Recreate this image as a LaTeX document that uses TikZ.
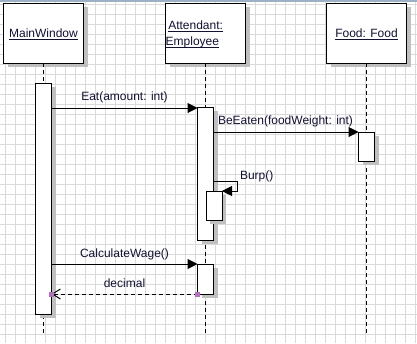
\documentclass[tikz,border=0pt]{standalone}
\usepackage{fontspec}
\setmainfont{Liberation Sans}
\newcommand{\myul}[1]{\setbox0\hbox{#1}\rlap{\vrule height -1.7pt depth 2.7pt width \wd0}\box0}
\usetikzlibrary{arrows.meta,shadows}
\definecolor{gridc}{RGB}{218,218,218}
\definecolor{shc}{RGB}{192,192,192}
\definecolor{txt}{RGB}{16,16,48}
\definecolor{handlec}{RGB}{180,110,190}
\definecolor{topbarc}{RGB}{160,176,196}
\begin{document}
\begin{tikzpicture}[x=1pt,y=-1pt,
  font=\fontsize{12}{14}\selectfont,
  every node/.style={text=txt, inner sep=0pt, outer sep=0pt},
  gridline/.style={draw=gridc, line width=1.2pt},
  shad/.style={drop shadow={shadow xshift=4pt, shadow yshift=-4pt, fill=shc, opacity=1}},
  objbox/.style={shad, draw=black, line width=1pt, fill=white, minimum width=80pt, minimum height=60pt},
  actbox/.style={shad, draw=black, line width=1pt, fill=white, minimum width=16pt},
  lifeline/.style={draw=black, line width=1pt, dash pattern=on 4pt off 3pt},
  msg/.style={draw=black, line width=1pt, -{Triangle[length=10pt,width=10pt]}},
  ret/.style={draw=black, line width=1pt, dash pattern=on 4pt off 3pt, -{Straight Barb[length=8pt,width=10pt]}},
  handle/.style={fill=handlec, minimum size=5pt},
  title/.style={anchor=base},
  lbl/.style={anchor=base}
]
\useasboundingbox (0,0) rectangle (417,343);
\fill[white] (0,0) rectangle (417,343);
% grid
\foreach \gx in {5.5,15.5,...,415.5} \draw[gridline] (\gx,0) -- (\gx,343);
\foreach \gy in {4.5,14.5,...,340} \draw[gridline] (0,\gy) -- (417,\gy);
\draw[draw=topbarc, line width=1.5pt] (0,0.75) -- (417,0.75);

% lifeline ends
\coordinate (mwend) at (43.5,333);
\coordinate (attend) at (205.5,333);
\coordinate (foodend) at (366.5,333);

% objects
\node[objbox] (mw) at (43.5,33) {};
\node[objbox] (att) at (205.5,33) {};
\node[objbox] (food) at (366.5,33) {};

\draw[lifeline] (mw.south) -- (mwend);
\draw[lifeline] (att.south) -- (attend);
\draw[lifeline] (food.south) -- (foodend);

\node[title] (mwt) at (43.5,37.3) {\myul{MainWindow}};
\node[title, anchor=base west] (att1) at (168.3,29.3) {\myul{Attendant:}};
\node[title, anchor=base west] (att2) at (165.7,45.7) {\myul{Employee}};
\node[title] (foodt) at (366.5,37.3) {\myul{Food: Food}};

% activations
\node[actbox, minimum height=231pt] (a1) at (43.5,198.5) {};
\node[actbox, minimum height=133pt] (b1) at (205.5,173.5) {};
\node[actbox, minimum height=29pt] (b2) at (214,205.5) {};
\node[actbox, minimum height=30pt] (b3) at (205.5,279) {};
\node[actbox, minimum height=29pt] (c1) at (366.5,146.5) {};

% message rows
\coordinate (yEat) at (0,108);
\coordinate (yBe) at (0,132);
\coordinate (yBurp) at (0,181);
\coordinate (burpR) at (237,181);
\coordinate (yCw) at (0,264);
\coordinate (yRet) at (0,294);

\draw[msg] (a1.east |- yEat) -- (b1.west |- yEat);
\draw[msg] (b1.east |- yBe) -- (c1.west |- yBe);
\draw[msg] (b1.east |- yBurp) -- (burpR) |- (b2.north east);
\draw[msg] (a1.east |- yCw) -- (b3.west |- yCw);
\draw[ret] (b3.west |- yRet) -- (a1.east |- yRet);

\node[handle] (h1) at (a1.east |- yRet) {};
\node[handle] (h2) at (b3.west |- yRet) {};

% labels
\node[lbl] (leat) at (124.5,100) {Eat(amount: int)};
\node[lbl] (lbe) at (285.5,124.7) {BeEaten(foodWeight: int)};
\node[lbl, anchor=base west] (lburp) at (240,179) {Burp()};
\node[lbl] (lcw) at (124.5,257.5) {CalculateWage()};
\node[lbl] (ldec) at (124.5,287.3) {decimal};
\end{tikzpicture}
\end{document}
